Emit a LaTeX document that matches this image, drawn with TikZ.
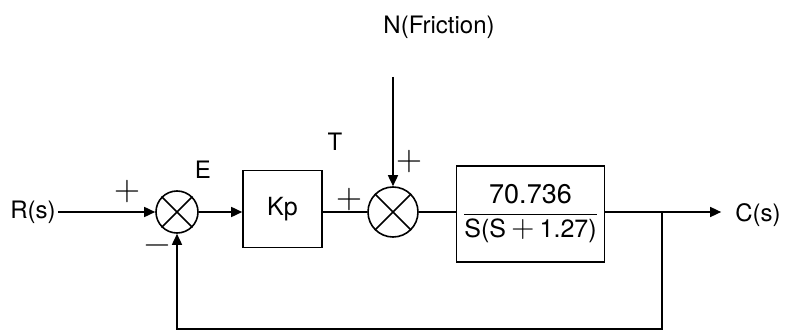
\documentclass[tikz,border=0pt]{standalone}
\usepackage{fontspec}
\setmainfont{TeX Gyre Heros}
\newfontfamily\lmsign{Latin Modern Roman}
\usetikzlibrary{arrows.meta}
\tikzset{
  lbl/.style={inner sep=0pt, font=\fontsize{24}{28}\selectfont},
  sgn/.style={inner sep=0pt, font=\lmsign\fontsize{36}{40}\selectfont},
  summer/.style={draw, circle, line width=1.6pt, inner sep=0pt},
  block/.style={draw, rectangle, line width=1.6pt, inner sep=0pt, font=\fontsize{25}{28}\selectfont},
  wire/.style={line width=1.6pt},
  arr/.style={line width=1.6pt, -{Triangle[length=11pt,width=10pt]}},
}
\begin{document}
\begin{tikzpicture}[x=1pt,y=-1pt]
\useasboundingbox (0,0) rectangle (785,331);
% nodes
\node[lbl] (R) at (33,212) {R(s)};
\node[summer, minimum size=42pt] (s1) at (177,212) {};
\node[block, minimum width=79pt, minimum height=77pt] (kp) at (282.5,209) {Kp};
\node[summer, minimum size=50pt] (s2) at (393,212) {};
\node[block, minimum width=148pt, minimum height=96pt] (G) at (530.5,214)
  {$\displaystyle\frac{\mbox{\fontsize{27}{30}\selectfont 70.736}}{\mbox{S(S{\lmsign\fontsize{32}{32}\selectfont\,+\,}1.27)}}$};
\node[lbl] (C) at (758,215) {C(s)};
\node[lbl] (N) at (439,27) {N(Friction)};
\coordinate (Ntop) at (393,77);
\coordinate (br) at (662,212);
\coordinate (bR) at (662,329);
\coordinate (bL) at (177,329);
% crosses in summers
\draw[wire] (s1.north west) -- (s1.south east) (s1.north east) -- (s1.south west);
\draw[wire] (s2.north west) -- (s2.south east) (s2.north east) -- (s2.south west);
% labels
\node[sgn] (p1) at (127,192) {+};
\node[sgn] (m1) at (157,250) {−};
\node[lbl] (E) at (203,170) {E};
\node[lbl] (T) at (335,142) {T};
\node[sgn] (p2) at (349,200) {+};
\node[sgn] (p3) at (409,162) {+};
% connectors
\draw[arr] (R.east) ++(2pt,0) -- (s1.west);
\draw[arr] (s1.east) -- (kp.west |- s1.east);
\draw[wire] (kp.east |- s2.west) -- (s2.west);
\draw[arr] (Ntop) -- (s2.north);
\draw[wire] (s2.east) -- (G.west |- s2.east);
\draw[arr] (G.east |- br) -- ([xshift=-14pt]C.west |- br);
\draw[arr] (br) -- (bR) -- (bL) -- (s1.south);
\end{tikzpicture}
\end{document}
